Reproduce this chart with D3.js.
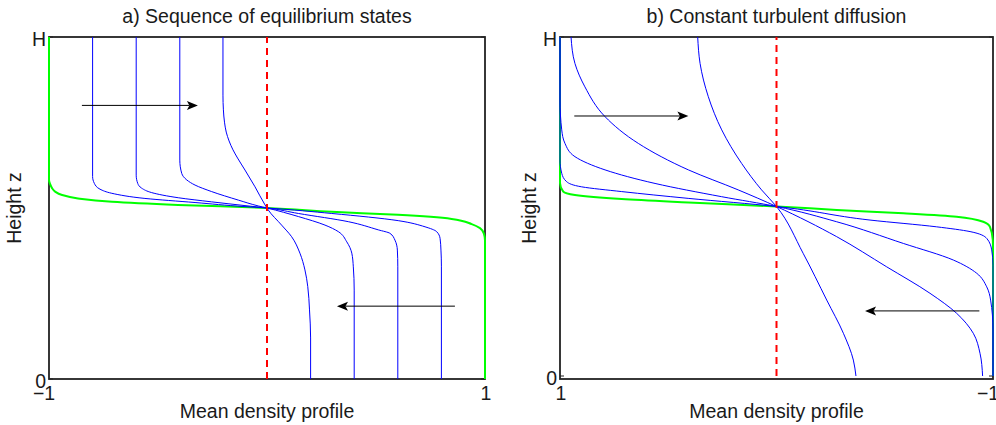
<!DOCTYPE html>
<html>
<head>
<meta charset="utf-8">
<script src="https://cdn.jsdelivr.net/npm/d3@7"></script>
<style>
  body { margin: 0; background: #fff; }
  text { font-family: "Liberation Sans", Arial, Helvetica, sans-serif; fill: #1a1a1a; }
</style>
</head>
<body>
<svg id="chart" width="996" height="425"></svg>
<script>
// ---- Panel a: sequence of equilibrium states, points are [density, z/H] ----
const eqInitial = [[-1, 1], [-1, 0.582], [-0.995, 0.570], [-0.986, 0.558], [-0.972, 0.548], [-0.940, 0.538],
  [-0.867, 0.528], [-0.711, 0.518], [-0.408, 0.509], [0, 0.5], [0.297, 0.489], [0.601, 0.480], [0.847, 0.468],
  [0.939, 0.453], [0.977, 0.441], [0.995, 0.425], [1, 0.405], [1, 0]];
const eqState08 = [[-0.8, 1], [-0.8, 0.592], [-0.792, 0.572], [-0.766, 0.555], [-0.712, 0.543], [-0.560, 0.528],
  [-0.330, 0.516], [-0.101, 0.504], [0, 0.5], [0.297, 0.484], [0.602, 0.463], [0.725, 0.445], [0.778, 0.431],
  [0.794, 0.411], [0.798, 0.377], [0.8, 0.33], [0.8, 0]];
const eqState06 = [[-0.6, 1], [-0.6, 0.596], [-0.593, 0.572], [-0.575, 0.558], [-0.529, 0.545], [-0.407, 0.530],
  [-0.254, 0.518], [-0.101, 0.507], [0, 0.5], [0.144, 0.484], [0.373, 0.460], [0.511, 0.436], [0.564, 0.426],
  [0.587, 0.406], [0.598, 0.377], [0.6, 0.328], [0.6, 0]];
const eqState04 = [[-0.4, 1], [-0.4, 0.640], [-0.391, 0.601], [-0.368, 0.582], [-0.330, 0.567], [-0.254, 0.548],
  [-0.131, 0.523], [-0.040, 0.506], [0, 0.5], [0.144, 0.475], [0.266, 0.450], [0.327, 0.431], [0.366, 0.401],
  [0.389, 0.368], [0.396, 0.328], [0.4, 0.26], [0.4, 0]];
const eqState02 = [[-0.202, 1], [-0.202, 0.830], [-0.200, 0.787], [-0.195, 0.751], [-0.187, 0.722], [-0.174, 0.696],
  [-0.156, 0.670], [-0.135, 0.646], [-0.101, 0.611], [-0.055, 0.562], [-0.009, 0.509], [0, 0.5], [0.006, 0.494],
  [0.067, 0.450], [0.113, 0.416], [0.151, 0.368], [0.174, 0.319], [0.187, 0.270], [0.195, 0.202], [0.2, 0.12], [0.2, 0]];
// arrows: [from density, to density, z/H]
const eqArrows = [[-0.849, -0.317, 0.800], [0.862, 0.321, 0.213]];

// ---- Panel b: constant turbulent diffusion ----
const diffInitial = [[1, 1], [1, 0.569], [0.985, 0.544], [0.931, 0.534], [0.715, 0.522], [0.407, 0.512], [0, 0.5],
  [-0.278, 0.490], [-0.586, 0.480], [-0.832, 0.470], [-0.955, 0.455], [-0.986, 0.440], [-0.999, 0.401],
  [-1, 0.38], [-1, 0]];
const diffT1 = [[1, 1], [1, 0.637], [0.992, 0.598], [0.969, 0.573], [0.900, 0.558], [0.715, 0.544], [0.408, 0.524],
  [0, 0.5], [-0.432, 0.460], [-0.740, 0.440], [-0.894, 0.426], [-0.971, 0.406], [-0.994, 0.372], [-1, 0.327], [-1, 0]];
const diffT2 = [[1, 1], [1, 0.814], [0.992, 0.726], [0.977, 0.686], [0.931, 0.647], [0.792, 0.608], [0.561, 0.568],
  [0.254, 0.529], [0, 0.5], [-0.278, 0.455], [-0.586, 0.391], [-0.817, 0.342], [-0.925, 0.303], [-0.971, 0.263],
  [-0.989, 0.224], [-1, 0.136], [-1, 0]];
const diffT3 = [[0.949, 1], [0.931, 0.922], [0.885, 0.853], [0.792, 0.765], [0.638, 0.686], [0.407, 0.608],
  [0.177, 0.549], [0, 0.5], [-0.278, 0.411], [-0.509, 0.322], [-0.709, 0.244], [-0.832, 0.185], [-0.909, 0.126],
  [-0.940, 0.067], [-0.952, 0]];
const diffT4 = [[0.364, 1], [0.353, 0.922], [0.315, 0.824], [0.253, 0.726], [0.161, 0.627], [0.069, 0.549], [0, 0.5],
  [-0.123, 0.362], [-0.232, 0.224], [-0.309, 0.126], [-0.355, 0.047], [-0.367, 0]];
const diffArrows = [[0.934, 0.407, 0.767], [-0.937, -0.409, 0.192]];

const xTicks = [-1, 1];
const zTicks = [0, 1];
const zTickLabels = ["0", "H"];
const titles = ["a) Sequence of equilibrium states", "b) Constant turbulent diffusion"];
const xLabel = "Mean density profile";
const yLabel = "Height z";

const svg = d3.select("#chart");
const FONT = 19.5;

const panels = [
  { title: titles[0], box: [49, 485, 37, 379], xDomain: [-1, 1], zRange: [379, 37], ylabX: 21,
    initial: eqInitial, states: [eqState08, eqState06, eqState04, eqState02], arrows: eqArrows },
  { title: titles[1], box: [560, 993, 37, 379], xDomain: [1, -1], zRange: [376, 37], ylabX: 536,
    initial: diffInitial, states: [diffT1, diffT2, diffT3, diffT4], arrows: diffArrows }
];

function drawArrow(g, x1, y1, x2, y2) {
  const len = 11, hw = 4.5, notch = 2.5;
  const ang = Math.atan2(y2 - y1, x2 - x1);
  const back = len - notch;
  g.append("line")
    .attr("x1", x1).attr("y1", y1)
    .attr("x2", x2 - back * Math.cos(ang)).attr("y2", y2 - back * Math.sin(ang))
    .attr("stroke", "#000").attr("stroke-width", 1);
  g.append("path")
    .attr("transform", `translate(${x2},${y2}) rotate(${ang * 180 / Math.PI})`)
    .attr("d", `M0,0 L${-len},${-hw} L${-back},0 L${-len},${hw} Z`)
    .attr("fill", "#000");
}

panels.forEach(p => {
  const [L, R, T, B] = p.box;
  const x = d3.scaleLinear().domain(p.xDomain).range([L, R]);
  const z = d3.scaleLinear().domain([0, 1]).range(p.zRange);
  const g = svg.append("g");

  // frame
  g.append("rect").attr("x", L).attr("y", T).attr("width", R - L).attr("height", B - T)
    .attr("fill", "none").attr("stroke", "#222").attr("stroke-width", 1.8);

  // inward ticks on both sides
  zTicks.forEach(t => {
    g.append("line").attr("x1", L).attr("x2", L + 4).attr("y1", z(t)).attr("y2", z(t))
      .attr("stroke", "#222").attr("stroke-width", 1);
    g.append("line").attr("x1", R).attr("x2", R - 4).attr("y1", z(t)).attr("y2", z(t))
      .attr("stroke", "#222").attr("stroke-width", 1);
  });

  // x axis labels
  const xAxis = d3.axisBottom(x).tickValues(xTicks).tickSize(0).tickPadding(7)
    .tickFormat(d => d < 0 ? "\u22121" : "1");
  const xa = g.append("g").attr("transform", `translate(0,${B})`).call(xAxis);
  xa.select(".domain").remove();
  xa.selectAll("text").attr("font-size", FONT).attr("fill", "#1a1a1a")
    .attr("font-family", "Liberation Sans, Arial, sans-serif")
    .attr("dx", d => d < 0 ? -5.4 : 0.5);

  // z axis labels
  const zAxis = d3.axisLeft(z).tickValues(zTicks).tickSize(0).tickPadding(3)
    .tickFormat((d, i) => zTickLabels[i]);
  const za = g.append("g").attr("transform", `translate(${L},0)`).call(zAxis);
  za.select(".domain").remove();
  za.selectAll("text").attr("font-size", FONT).attr("fill", "#1a1a1a")
    .attr("font-family", "Liberation Sans, Arial, sans-serif").attr("dy", "0.42em");

  // titles and axis names
  g.append("text").attr("x", (L + R) / 2).attr("y", 23.3).attr("text-anchor", "middle")
    .attr("font-size", FONT).text(p.title);
  g.append("text").attr("x", (L + R) / 2).attr("y", 418).attr("text-anchor", "middle")
    .attr("font-size", FONT).text(xLabel);
  g.append("text").attr("transform", `translate(${p.ylabX},${(T + B) / 2}) rotate(-90)`)
    .attr("text-anchor", "middle").attr("font-size", FONT).text(yLabel);

  const line = d3.line().x(d => x(d[0])).y(d => z(d[1])).curve(d3.curveMonotoneY);

  g.append("path").datum(p.initial).attr("d", line)
    .attr("fill", "none").attr("stroke", "#00ff00").attr("stroke-width", 2);
  p.states.forEach(s => {
    g.append("path").datum(s).attr("d", line)
      .attr("fill", "none").attr("stroke", "#0000ff").attr("stroke-width", 1);
  });

  // mean density line
  g.append("line").attr("x1", x(0)).attr("x2", x(0)).attr("y1", z(0)).attr("y2", z(1))
    .attr("stroke", "#ff0000").attr("stroke-width", 2).attr("stroke-dasharray", "7,5");

  p.arrows.forEach(a => drawArrow(g, x(a[0]), z(a[2]), x(a[1]), z(a[2])));
});
</script>
</body>
</html>
